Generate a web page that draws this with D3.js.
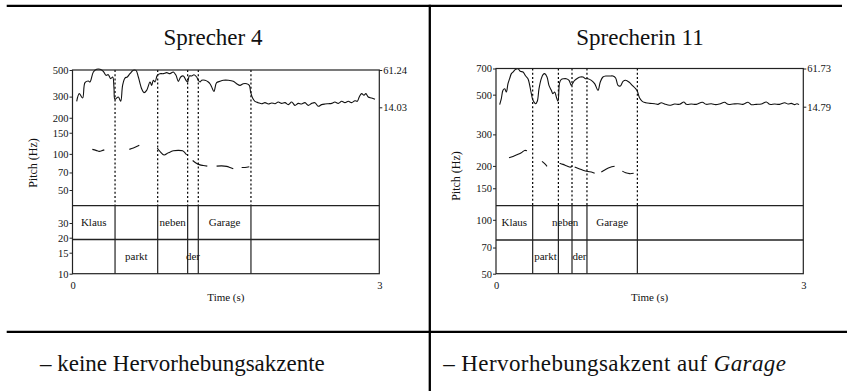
<!DOCTYPE html>
<html><head><meta charset="utf-8">
<script src="https://cdn.jsdelivr.net/npm/d3@7"></script>
<style>
html,body{margin:0;padding:0;background:#fff;}
svg{display:block;font-family:"Liberation Serif",serif;}
</style></head>
<body><div id="chart"></div>
<script>
// ---------- data ----------
const timeExtent = [0, 3];
const titles = ["Sprecher 4", "Sprecherin 11"];
const captionS4 = "– keine Hervorhebungsakzente";
const captionS11 = "– Hervorhebungsakzent auf ";
const captionS11Italic = "Garage";
const timeTicks = [0, 3];
const pitchTicksS4 = [10, 15, 20, 30, 50, 70, 100, 150, 200, 300, 500];
const pitchTicksS11 = [50, 70, 100, 150, 200, 300, 500, 700];
const intensityTicksS4 = [14.03, 61.24];
const intensityTicksS11 = [14.79, 61.73];
const words = ["Klaus", "parkt", "neben", "der", "Garage"];
const wordTier = [1, 2, 1, 2, 1];
const boundariesS4 = [0, 0.416, 0.833, 1.126, 1.23, 1.745];
const boundariesS11 = [0, 0.358, 0.609, 0.742, 0.888, 1.38];

// intensity contours [time s, dB]
const intensityS4 = [
[0.041,21.6],[0.067,31.3],[0.099,25.8],[0.122,45.2],[0.155,47.3],[0.171,46.1],[0.204,58.7],[0.236,62.1],[0.269,62.1],[0.301,59.6],
[0.327,54.5],[0.350,55.3],[0.373,50.3],[0.393,52.4],[0.406,37.6],[0.415,24.1],[0.448,27.1],[0.471,21.6],[0.490,41.8],[0.513,51.1],
[0.536,52.4],[0.562,56.6],[0.595,60.8],[0.621,60.8],[0.644,52.4],[0.676,37.6],[0.699,32.6],[0.725,35.5],[0.758,46.1],[0.774,41.8],
[0.790,48.2],[0.807,46.1],[0.829,54.5],[0.855,56.6],[0.888,56.6],[0.921,57.9],[0.953,56.6],[0.986,58.7],[1.012,54.5],[1.035,46.9],
[1.058,52.4],[1.084,53.7],[1.110,48.2],[1.126,46.1],[1.142,53.7],[1.165,53.7],[1.188,55.3],[1.214,52.4],[1.230,48.2],[1.247,46.1],
[1.263,48.2],[1.295,48.2],[1.328,46.1],[1.344,43.9],[1.361,39.7],[1.383,34.2],[1.409,45.2],[1.442,46.9],[1.475,48.2],[1.524,48.2],
[1.572,46.9],[1.605,43.9],[1.638,41.8],[1.670,43.9],[1.703,43.9],[1.729,41.8],[1.742,33.4],[1.761,25.8],[1.784,21.6],[1.817,19.9],
[1.849,18.6],[1.882,19.9],[1.915,18.2],[1.947,19.5],[1.980,18.6],[2.012,20.7],[2.045,19.0],[2.078,19.9],[2.110,17.4],[2.143,20.7],
[2.175,16.5],[2.208,19.0],[2.240,18.2],[2.273,19.9],[2.306,16.5],[2.338,19.0],[2.371,19.9],[2.403,15.3],[2.436,17.4],[2.469,18.2],
[2.501,18.6],[2.534,19.0],[2.566,20.7],[2.599,19.0],[2.632,21.6],[2.664,19.9],[2.697,21.6],[2.729,19.9],[2.762,22.4],[2.785,21.6],
[2.804,27.1],[2.827,31.3],[2.850,29.2],[2.869,31.3],[2.892,27.1],[2.925,25.8],[2.958,24.1]
];
const intensityS11 = [
[0.036,17.3],[0.052,24.7],[0.068,34.9],[0.085,36.9],[0.101,32.8],[0.117,43.1],[0.133,49.2],[0.150,55.4],[0.166,57.4],[0.192,60.7],
[0.215,61.5],[0.237,58.3],[0.264,57.4],[0.290,52.5],[0.312,49.2],[0.329,41.0],[0.345,30.8],[0.361,22.6],[0.387,18.5],[0.403,21.4],
[0.420,36.9],[0.442,49.2],[0.459,54.2],[0.475,55.4],[0.498,51.3],[0.517,41.0],[0.540,34.9],[0.556,30.8],[0.573,32.9],[0.589,26.7],
[0.605,21.4],[0.621,44.3],[0.638,48.4],[0.661,49.2],[0.686,49.2],[0.713,47.2],[0.735,41.0],[0.752,44.3],[0.768,47.2],[0.800,50.1],
[0.823,51.3],[0.849,51.3],[0.875,49.2],[0.898,49.2],[0.931,47.2],[0.963,43.1],[0.996,34.9],[1.018,45.1],[1.044,51.3],[1.077,52.5],
[1.110,52.5],[1.142,52.5],[1.168,50.1],[1.191,41.0],[1.214,40.2],[1.240,45.9],[1.266,47.2],[1.298,45.1],[1.331,41.0],[1.363,36.9],
[1.380,33.7],[1.402,25.5],[1.428,21.4],[1.461,19.7],[1.500,18.9],[1.549,18.5],[1.581,17.7],[1.614,19.7],[1.646,18.1],[1.695,16.5],
[1.744,18.1],[1.793,17.7],[1.835,20.6],[1.858,17.7],[1.907,18.1],[1.956,17.7],[2.014,20.2],[2.053,17.7],[2.102,18.5],[2.144,17.3],
[2.183,18.1],[2.232,20.2],[2.265,17.7],[2.314,18.1],[2.362,18.5],[2.411,17.7],[2.460,20.2],[2.493,17.3],[2.541,17.7],[2.590,18.1],
[2.639,20.6],[2.672,17.7],[2.720,18.1],[2.769,17.7],[2.818,19.7],[2.851,18.1],[2.883,18.9],[2.916,17.3],[2.938,18.5],[2.958,17.3]
];

// pitch contours (voiced stretches) [time s, Hz]
const pitchS4 = [
[[0.194,109],[0.230,107],[0.262,105],[0.285,106],[0.311,108]],
[[0.556,109],[0.595,112],[0.627,115],[0.653,118]],
[[0.829,112],[0.855,105],[0.895,98],[0.937,102],[0.986,106],[1.035,107],[1.077,106],[1.100,102],[1.116,98]],
[[1.175,88],[1.207,84],[1.247,81],[1.279,80],[1.318,79]],
[[1.409,79],[1.458,79.5],[1.507,78.7],[1.540,77],[1.572,75]],
[[1.654,77],[1.687,77],[1.729,78]]
];
const pitchS11 = [
[[0.127,222],[0.166,226],[0.205,231],[0.247,237],[0.280,244],[0.302,243]],
[[0.449,212],[0.475,206],[0.498,199]],
[[0.621,207],[0.654,204],[0.693,200],[0.726,197],[0.745,199]],
[[0.768,197],[0.810,193],[0.849,189],[0.898,186],[0.931,185],[0.963,182]],
[[1.028,185],[1.070,191],[1.110,196],[1.158,199]],
[[1.233,187],[1.266,183],[1.305,181],[1.344,182]]
];

// ---------- layout ----------
const W = 847, H = 391;
const FONT = '"Liberation Serif", serif';
const svg = d3.select("#chart").append("svg").attr("width", W).attr("height", H);
svg.append("rect").attr("width", W).attr("height", H).attr("fill", "#fff");

// table rules
const rule = svg.append("g").attr("stroke", "#000").attr("stroke-width", 2.3);
rule.append("line").attr("x1", 6.7).attr("x2", 842).attr("y1", 5.9).attr("y2", 5.9);
rule.append("line").attr("x1", 6.7).attr("x2", 847).attr("y1", 331.9).attr("y2", 331.9);
rule.append("line").attr("x1", 429.8).attr("x2", 429.8).attr("y1", 4.8).attr("y2", H);

const panels = [
  { title: titles[0], titleX: 213, x0: 72.5, x1: 379.3, yTop: 70, yBot: 273.7, tierTop: 205.7, tierMid: 239.5,
    pitchDomain: [10, 15, 20, 30, 50, 500], pitchRange: [273.7, 252.7, 237.7, 223, 190, 70],
    pitchTicks: pitchTicksS4, intTicks: intensityTicksS4, intRange: [107.3, 70],
    bounds: boundariesS4, intensity: intensityS4, pitch: pitchS4, labelY: 163 },
  { title: titles[1], titleX: 640, x0: 496, x1: 803.3, yTop: 68.5, yBot: 273.7, tierTop: 205.7, tierMid: 240,
    pitchDomain: [50, 700], pitchRange: [273.7, 68.5],
    pitchTicks: pitchTicksS11, intTicks: intensityTicksS11, intRange: [106.7, 68.5],
    bounds: boundariesS11, intensity: intensityS11, pitch: pitchS11, labelY: 176 }
];

panels.forEach(p => {
  const g = svg.append("g");
  const x = d3.scaleLinear().domain(timeExtent).range([p.x0, p.x1]);
  const yP = d3.scaleLog().domain(p.pitchDomain).range(p.pitchRange);
  const yI = d3.scaleLinear().domain(p.intTicks).range(p.intRange);

  g.append("text").attr("x", p.titleX).attr("y", 45).attr("text-anchor", "middle")
    .attr("font-size", 23).attr("fill", "#111").text(p.title);

  // dotted boundaries in the signal area
  const inner = p.bounds.slice(1);
  g.selectAll(".dot").data(inner).join("line")
    .attr("x1", d => x(d)).attr("x2", d => x(d)).attr("y1", p.yTop).attr("y2", p.tierTop)
    .attr("stroke", "#000").attr("stroke-width", 1.2).attr("stroke-dasharray", "2,2.2");

  // tier boundaries
  g.selectAll(".tb").data(inner).join("line")
    .attr("x1", d => x(d)).attr("x2", d => x(d)).attr("y1", p.tierTop).attr("y2", p.yBot)
    .attr("stroke", "#222").attr("stroke-width", 1.2);
  [p.tierTop, p.tierMid].forEach(yy => {
    g.append("line").attr("x1", p.x0).attr("x2", p.x1).attr("y1", yy).attr("y2", yy)
      .attr("stroke", "#222").attr("stroke-width", 1.3);
  });

  // words
  g.selectAll(".w").data(words).join("text")
    .attr("x", (d, i) => (x(p.bounds[i]) + x(p.bounds[i + 1])) / 2)
    .attr("y", (d, i) => wordTier[i] === 1 ? (p.tierTop + p.tierMid) / 2 : (p.tierMid + p.yBot) / 2)
    .attr("dy", "0.33em").attr("text-anchor", "middle").attr("font-size", 11).attr("fill", "#111")
    .text(d => d);

  // curves
  const lineI = d3.line().x(d => x(d[0])).y(d => yI(d[1])).curve(d3.curveCatmullRom.alpha(0.5));
  g.append("path").attr("d", lineI(p.intensity)).attr("fill", "none").attr("stroke", "#111").attr("stroke-width", 1.1);
  const lineP = d3.line().x(d => x(d[0])).y(d => yP(d[1])).curve(d3.curveCatmullRom.alpha(0.5));
  g.selectAll(".pitch").data(p.pitch).join("path").attr("d", lineP)
    .attr("fill", "none").attr("stroke", "#111").attr("stroke-width", 1.1);

  // frame
  g.append("rect").attr("x", p.x0).attr("y", p.yTop).attr("width", p.x1 - p.x0).attr("height", p.yBot - p.yTop)
    .attr("fill", "none").attr("stroke", "#222").attr("stroke-width", 1.2);

  // axes
  const styleAxis = sel => {
    sel.select(".domain").remove();
    sel.selectAll("line").attr("stroke", "#222");
    sel.selectAll("text").attr("font-family", FONT).attr("font-size", 10.5).attr("fill", "#111");
  };
  g.append("g").attr("transform", `translate(${p.x0},0)`)
    .call(d3.axisLeft(yP).tickValues(p.pitchTicks).tickFormat(d3.format("d")).tickSize(3).tickPadding(1))
    .call(styleAxis);
  g.append("g").attr("transform", `translate(${p.x1},0)`)
    .call(d3.axisRight(yI).tickValues(p.intTicks).tickFormat(d3.format(".2f")).tickSize(3).tickPadding(1))
    .call(styleAxis);
  g.append("g").attr("transform", `translate(0,${p.yBot})`)
    .call(d3.axisBottom(x).tickValues(timeTicks).tickFormat(d3.format("d")).tickSize(0).tickPadding(8))
    .call(styleAxis);

  g.append("text").attr("x", (p.x0 + p.x1) / 2).attr("y", 301).attr("text-anchor", "middle")
    .attr("font-size", 11).attr("fill", "#111").text("Time (s)");
  const lx = p.x0 - 36;
  g.append("text").attr("transform", `translate(${lx},${p.labelY}) rotate(-90)`)
    .attr("text-anchor", "middle").attr("font-size", 12).attr("fill", "#111").text("Pitch (Hz)");
});

// captions
svg.append("text").attr("x", 40).attr("y", 371).attr("font-size", 23).attr("fill", "#111").text(captionS4);
const cap = svg.append("text").attr("x", 443.3).attr("y", 371).attr("font-size", 23).attr("fill", "#111")
  .attr("letter-spacing", 0.4);
cap.append("tspan").text(captionS11);
cap.append("tspan").attr("font-style", "italic").text(captionS11Italic);
</script></body></html>
